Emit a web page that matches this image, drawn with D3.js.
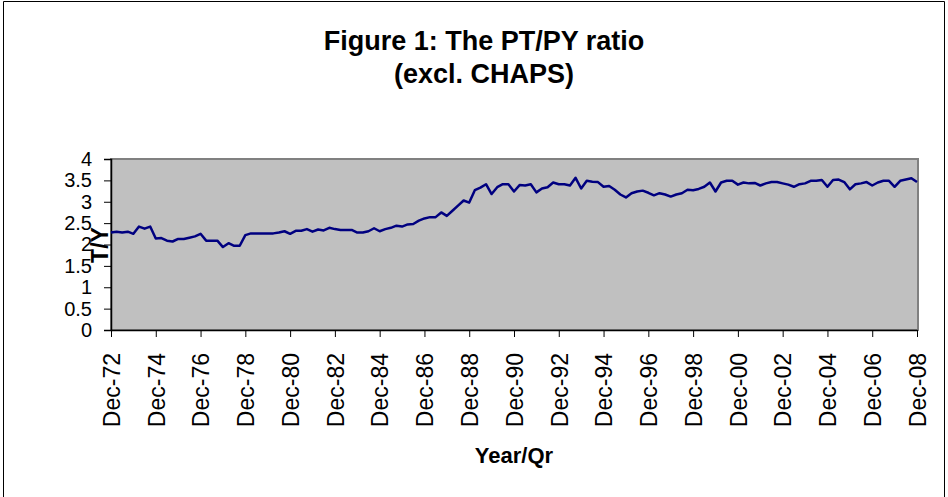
<!DOCTYPE html>
<html>
<head>
<meta charset="utf-8">
<script src="https://cdn.jsdelivr.net/npm/d3@7/dist/d3.min.js"></script>
<style>
  body { margin: 0; background: #fff; }
  text { font-family: "Liberation Sans", Arial, sans-serif; fill: #000; }
</style>
</head>
<body>
<svg width="948" height="497"></svg>
<script>
// quarterly PT/PY ratio, Dec-72 .. Dec-08
var ratio = [
  2.28, 2.30, 2.28, 2.30, 2.25, 2.42, 2.37, 2.42, 2.14, 2.15,
  2.09, 2.07, 2.13, 2.13, 2.16, 2.19, 2.25, 2.09, 2.09, 2.09,
  1.94, 2.03, 1.97, 1.97, 2.22, 2.26, 2.26, 2.26, 2.26, 2.26,
  2.28, 2.31, 2.25, 2.32, 2.32, 2.36, 2.30, 2.35, 2.33, 2.39,
  2.36, 2.34, 2.34, 2.34, 2.28, 2.28, 2.31, 2.38, 2.31, 2.36,
  2.39, 2.44, 2.42, 2.47, 2.48, 2.56, 2.61, 2.64, 2.64, 2.75,
  2.67, 2.79, 2.91, 3.03, 2.98, 3.27, 3.33, 3.41, 3.18, 3.34,
  3.41, 3.41, 3.24, 3.39, 3.38, 3.41, 3.22, 3.31, 3.34, 3.45,
  3.41, 3.41, 3.38, 3.56, 3.31, 3.49, 3.47, 3.46, 3.35, 3.37,
  3.28, 3.17, 3.10, 3.20, 3.24, 3.26, 3.21, 3.15, 3.20, 3.17,
  3.12, 3.17, 3.20, 3.28, 3.27, 3.30, 3.35, 3.45, 3.24, 3.45,
  3.49, 3.49, 3.40, 3.45, 3.43, 3.44, 3.38, 3.43, 3.46, 3.46,
  3.43, 3.40, 3.35, 3.41, 3.43, 3.49, 3.49, 3.51, 3.35, 3.51,
  3.52, 3.46, 3.29, 3.41, 3.43, 3.46, 3.38, 3.45, 3.49, 3.49,
  3.35, 3.49, 3.52, 3.55, 3.46
];

var tickLabels = ["Dec-72", "Dec-74", "Dec-76", "Dec-78", "Dec-80", "Dec-82",
  "Dec-84", "Dec-86", "Dec-88", "Dec-90", "Dec-92", "Dec-94", "Dec-96",
  "Dec-98", "Dec-00", "Dec-02", "Dec-04", "Dec-06", "Dec-08"];

var yTicks = [0, 0.5, 1, 1.5, 2, 2.5, 3, 3.5, 4];

// category names for each quarter
var months = ["Mar", "Jun", "Sep", "Dec"];
var quarters = ratio.map(function(d, i) {
    var m = (i + 3) % 4, yr = 72 + Math.floor((i + 3) / 4);
    return months[m] + "-" + d3.format("02")(yr % 100);
});

var svg = d3.select("svg");

// outer frame
svg.append("path")
    .attr("d", "M3.5,497V1.5H944.5V497")
    .attr("fill", "none")
    .attr("stroke", "#000")
    .attr("stroke-width", 1);

// plot box (don't call it "top", window.top is taken)
var pLeft = 111, pRight = 918, pTop = 159, pBottom = 330;

var x = d3.scalePoint().domain(quarters).range([pLeft, pRight - 1]);
var y = d3.scaleLinear().domain([0, 4]).range([pBottom, pTop]);

// plot area
svg.append("rect")
    .attr("x", pLeft).attr("y", pTop)
    .attr("width", pRight - pLeft).attr("height", pBottom - pTop)
    .attr("fill", "#c0c0c0")
    .attr("stroke", "#808080")
    .attr("stroke-width", 2);

// title
var title = svg.append("text")
    .attr("text-anchor", "middle")
    .style("font-weight", "bold")
    .style("font-size", "27px");
title.append("tspan").attr("x", 484).attr("y", 50).text("Figure 1: The PT/PY ratio");
title.append("tspan").attr("x", 484).attr("y", 83).text("(excl. CHAPS)");

// y axis
var yAxis = svg.append("g")
    .attr("transform", "translate(" + pLeft + ",0)")
    .call(d3.axisLeft(y).tickValues(yTicks).tickSize(7).tickPadding(12)
        .tickFormat(d3.format("")));
yAxis.select(".domain").attr("stroke", "#000").attr("stroke-width", 1.5);
yAxis.selectAll(".tick line").attr("stroke", "#000");
yAxis.selectAll(".tick text")
    .style("font-size", "20px")
    .style("font-family", "'Liberation Sans', Arial, sans-serif");

// x axis
var xAxis = svg.append("g")
    .attr("transform", "translate(0," + pBottom + ")")
    .call(d3.axisBottom(x).tickValues(tickLabels).tickSize(7).tickSizeOuter(0));
xAxis.select(".domain").attr("stroke", "#000").attr("stroke-width", 1.5);
xAxis.selectAll(".tick line").attr("stroke", "#000");
xAxis.selectAll(".tick text")
    .attr("transform", "translate(0,23) rotate(-90)")
    .attr("text-anchor", "end")
    .attr("x", 0).attr("y", 0).attr("dy", "0.36em")
    .style("font-size", "23px")
    .style("font-family", "'Liberation Sans', Arial, sans-serif");

// the line
var line = d3.line()
    .x(function(d, i) { return x(quarters[i]); })
    .y(function(d) { return y(d); });

svg.append("path")
    .datum(ratio)
    .attr("d", line)
    .attr("fill", "none")
    .attr("stroke", "#000080")
    .attr("stroke-width", 2.5)
    .attr("stroke-linejoin", "round");

// axis titles
svg.append("text")
    .attr("transform", "translate(108,245) rotate(-90)")
    .attr("text-anchor", "middle")
    .style("font-weight", "bold")
    .style("font-size", "23px")
    .text("T/Y");

svg.append("text")
    .attr("x", 514).attr("y", 463)
    .attr("text-anchor", "middle")
    .style("font-weight", "bold")
    .style("font-size", "22px")
    .text("Year/Qr");
</script>
</body>
</html>
